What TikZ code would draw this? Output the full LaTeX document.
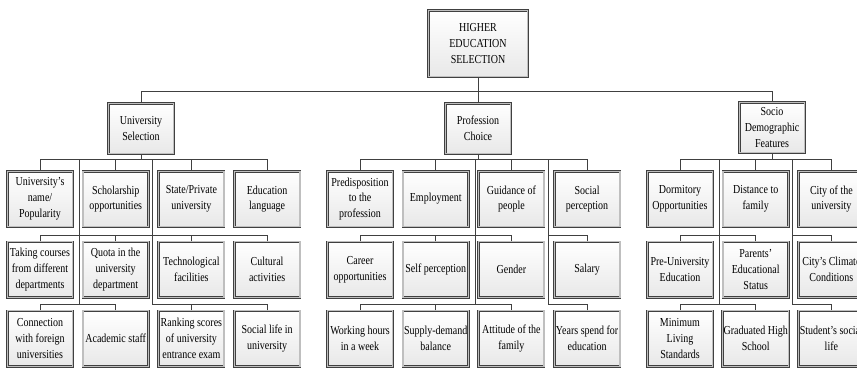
\documentclass[tikz,border=0pt]{standalone}
\usepackage{fontspec}
\setmainfont{Liberation Serif}[FakeStretch=0.82]

\tikzset{
  box/.style={draw=black!75, double=black!25, double distance=1.4pt, line width=0.55pt,
    top color=white, bottom color=black!9, align=center, inner sep=1pt,
    minimum width=65.5pt, minimum height=55.5pt, font=\fontsize{12.2}{15.8}\selectfont},
  link/.style={draw=black!75, line width=0.9pt}
}

\begin{document}
\begin{tikzpicture}[x=1pt, y=-1pt]
    \useasboundingbox (0, 0) rectangle (857, 368);
    % Bus heights
    \coordinate (bus) at (0, 91);
    \coordinate (r1) at (0, 159);
    \coordinate (r2) at (0, 235);
    \coordinate (r3) at (0, 304);
    % Root and the three factors
    \node[box, minimum width=99.5pt, minimum height=66.5pt] (top) at (478, 43.5) {HIGHER\\EDUCATION\\SELECTION};
    \node[box, minimum height=50.5pt] (uni) at (141, 128.5) {University\\Selection};
    \node[box, minimum height=50.5pt] (prof) at (478, 128.5) {Profession\\Choice};
    \node[box, minimum height=50.5pt] (soc) at (772, 127.5) {Socio\\Demographic\\Features};
    % University Selection items
    \foreach \t [count=\c] in {{University's\\name/\\Popularity}, {Scholarship\\opportunities}, {State/Private\\university}, {Education\\language}}
      \node[box] (uni-1-\c) at ({40+75.7*(\c-1)}, 199) {\t};
    \foreach \t [count=\c] in {{Taking courses\\from different\\departments}, {Quota in the\\university\\department}, {Technological\\facilities}, {Cultural\\activities}}
      \node[box] (uni-2-\c) at ({40+75.7*(\c-1)}, 269.5) {\t};
    \foreach \t [count=\c] in {{Connection\\with foreign\\universities}, {Academic staff}, {Ranking scores\\of university\\entrance exam}, {Social life in\\university}}
      \node[box] (uni-3-\c) at ({40+75.7*(\c-1)}, 338.5) {\t};
    % Profession Choice items
    \foreach \t [count=\c] in {{Predisposition\\to the\\profession}, {Employment}, {Guidance of\\people}, {Social\\perception}}
      \node[box] (prof-1-\c) at ({360+75.7*(\c-1)}, 199) {\t};
    \foreach \t [count=\c] in {{Career\\opportunities}, {Self perception}, {Gender}, {Salary}}
      \node[box] (prof-2-\c) at ({360+75.7*(\c-1)}, 269.5) {\t};
    \foreach \t [count=\c] in {{Working hours\\in a week}, {Supply-demand\\balance}, {Attitude of the\\family}, {Years spend for\\education}}
      \node[box] (prof-3-\c) at ({360+75.7*(\c-1)}, 338.5) {\t};
    % Socio Demographic items
    \foreach \t [count=\c] in {{Dormitory\\Opportunities}, {Distance to\\family}, {City of the\\university}}
      \node[box] (soc-1-\c) at ({680+75.7*(\c-1)}, 199) {\t};
    \foreach \t [count=\c] in {{Pre-University\\Education}, {Parents'\\Educational\\Status}, {City's Climate\\Conditions}}
      \node[box] (soc-2-\c) at ({680+75.7*(\c-1)}, 269.5) {\t};
    \foreach \t [count=\c] in {{Minimum\\Living\\Standards}, {Graduated High\\School}, {Student's social\\life}}
      \node[box] (soc-3-\c) at ({680+75.7*(\c-1)}, 338.5) {\t};
    % Root to factors
    \draw[link] (top.south) -- (top.south |- bus);
    \draw[link] (uni.north) -- (uni.north |- bus) -- (soc.north |- bus) -- (soc.north);
    \draw[link] (prof.north) -- (prof.north |- bus);
    \foreach \g in {uni, prof, soc}
      \draw[link] (\g.south) -- (\g.south |- r1);
    % Drops to every item
    \foreach \g/\n in {uni/4, prof/4, soc/3}{
      \foreach \r in {1, 2, 3}{
        \foreach \c in {1, ..., \n}{
          \draw[link] (\g-\r-\c.north) -- (\g-\r-\c.north |- r\r);
        }
      }
    }
    % Trunks
    \coordinate (ua) at (79, 159);
    \coordinate (ub) at (152, 159);
    \coordinate (pa) at (475, 159);
    \coordinate (pb) at (548, 159);
    \coordinate (sa) at (719, 159);
    \coordinate (sb) at (792, 159);
    \foreach \k in {ua, ub, pa, pb, sa, sb}
      \draw[link] (\k) -- (\k |- r3);
    % Buses
    \draw[link] (uni-1-1.north |- r1) -- (uni-1-4.north |- r1);
    \draw[link] (uni-2-1.north |- r2) -- (uni-2-4.north |- r2);
    \draw[link] (uni-3-1.north |- r3) -- (uni-3-2.north |- r3);
    \draw[link] (ub |- r3) -- (uni-3-4.north |- r3);
    \draw[link] (prof-1-1.north |- r1) -- (prof-1-4.north |- r1);
    \draw[link] (soc-1-1.north |- r1) -- (soc-1-3.north |- r1);
    \foreach \r in {2, 3}{
      \draw[link] (prof-\r-1.north |- r\r) -- (prof-\r-3.north |- r\r);
      \draw[link] (pb |- r\r) -- (prof-\r-4.north |- r\r);
      \draw[link] (soc-\r-1.north |- r\r) -- (soc-\r-2.north |- r\r);
      \draw[link] (sb |- r\r) -- (soc-\r-3.north |- r\r);
    }
\end{tikzpicture}
\end{document}
